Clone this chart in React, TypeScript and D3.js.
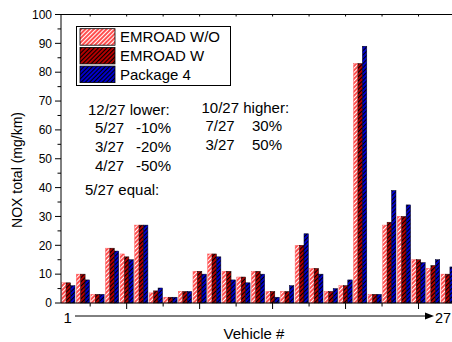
import React from "react";
import * as d3 from "d3";

// NOx per vehicle, three measurement setups
const vehicles: number[] = d3.range(1, 28);
const emroadWO: number[] = [7, 10, 3, 19, 17, 27, 3.5, 2, 4, 11, 17, 11, 9, 11, 4, 4, 20, 12, 4, 6, 83, 3, 27, 30, 15, 12, 10];
const emroadW: number[] = [7, 10, 3, 19, 16, 27, 4.2, 2, 4, 11, 17, 11, 9, 11, 4, 4, 20, 12, 4, 6, 83, 3, 28, 30, 15, 13, 10];
const package4: number[] = [6, 8, 3, 18, 15, 27, 5.2, 2, 4, 10, 16, 8, 7, 10, 2, 6, 24, 10, 5, 8, 89, 3, 39, 34, 14, 15, 12.5];

const seriesNames: string[] = ["EMROAD W/O", "EMROAD W", "Package 4"];
const yTicks: number[] = d3.range(0, 101, 10);
const yMinorTicks: number[] = d3.range(5, 100, 10);
const xMajorTicks: number[] = [5, 10, 15, 20, 25];
const xMinorTicks: number[] = [2.5, 7.5, 12.5, 17.5, 22.5];

const lowerNotes: [string, string][] = [
  ["5/27", "-10%"],
  ["3/27", "-20%"],
  ["4/27", "-50%"],
];
const higherNotes: [string, string][] = [
  ["7/27", "30%"],
  ["3/27", "50%"],
];

const FONT = "'Liberation Sans', Arial, Helvetica, sans-serif";

const styles = [
  { id: "hatchLight", base: "#ff3030", stripe: "#ffffff", stroke: "#ff6060" },
  { id: "hatchDark", base: "#d00000", stripe: "#000000", stroke: "#200000" },
  { id: "hatchBlue", base: "#0000f0", stripe: "#000000", stroke: "#000020" },
];

export default function App() {
  const W = 452;
  const H = 342;
  const left = 61;
  const top = 14.5;
  const bottom = 303;
  const right = 455;

  const x = d3.scaleLinear().domain([0.5, 27.5]).range([left, right]);
  const y = d3.scaleLinear().domain([0, 100]).range([bottom, top]);

  const groupW = x(2) - x(1);
  const inner = d3
    .scaleBand<number>()
    .domain([0, 1, 2])
    .range([-groupW * 0.455, groupW * 0.455])
    .padding(0);

  const series = [emroadWO, emroadW, package4];

  return (
    <svg
      width={W}
      height={H}
      style={{ position: "absolute", left: 0, top: 0, display: "block", background: "#fff" }}
      fontFamily={FONT}
    >
      <defs>
        {styles.map((s) => (
          <pattern
            key={s.id}
            id={s.id}
            patternUnits="userSpaceOnUse"
            width={3}
            height={3}
            patternTransform="rotate(45)"
          >
            <rect width={3} height={3} fill={s.base} />
            <line x1={1.5} y1={0} x2={1.5} y2={3} stroke={s.stripe} strokeWidth={1.3} />
          </pattern>
        ))}
      </defs>

      {/* bars */}
      {vehicles.map((v, i) => (
        <g key={v}>
          {series.map((vals, k) => {
            const x0 = x(v) + (inner(k) as number);
            const y0 = y(vals[i]);
            return (
              <rect
                key={k}
                x={x0}
                y={y0}
                width={inner.bandwidth()}
                height={bottom - y0}
                fill={`url(#${styles[k].id})`}
                stroke={styles[k].stroke}
                strokeWidth={0.5}
              />
            );
          })}
        </g>
      ))}

      {/* frame */}
      <line x1={left} x2={left} y1={top} y2={bottom} stroke="#000" strokeWidth={1} />
      <line x1={left} x2={W} y1={top} y2={top} stroke="#000" strokeWidth={1} />
      <line x1={left} x2={W} y1={bottom} y2={bottom} stroke="#000" strokeWidth={1} />

      {/* y ticks */}
      {yTicks.map((t) => (
        <g key={t}>
          <line x1={left - 6} x2={left} y1={y(t)} y2={y(t)} stroke="#000" />
          <text x={left - 9} y={y(t)} dy="0.35em" textAnchor="end" fontSize={12}>
            {t}
          </text>
        </g>
      ))}
      {yMinorTicks.map((t) => (
        <line key={t} x1={left - 3.5} x2={left} y1={y(t)} y2={y(t)} stroke="#000" />
      ))}

      {/* x ticks */}
      {xMajorTicks.map((t) => (
        <g key={t}>
          <line x1={x(t)} x2={x(t)} y1={bottom} y2={bottom + 6} stroke="#000" />
          <line x1={x(t)} x2={x(t)} y1={top} y2={top + 2} stroke="#000" />
        </g>
      ))}
      {xMinorTicks.map((t) => (
        <g key={t}>
          <line x1={x(t)} x2={x(t)} y1={bottom} y2={bottom + 3.5} stroke="#000" />
          <line x1={x(t)} x2={x(t)} y1={top} y2={top + 2} stroke="#000" />
        </g>
      ))}

      {/* y title */}
      <text
        transform={`translate(17,170) rotate(-90)`}
        textAnchor="middle"
        dy="0.35em"
        fontSize={14}
      >
        NOX total (mg/km)
      </text>

      {/* x axis: vehicle range arrow */}
      <text x={x(1) - 0.5} y={323} textAnchor="middle" fontSize={15}>
        {vehicles[0]}
      </text>
      <line x1={75} x2={426} y1={316} y2={316} stroke="#000" strokeWidth={1} />
      <path d="M425,312.5 L434,316 L425,319.5 Z" fill="#000" />
      <text x={435} y={323} fontSize={14.5}>
        {vehicles[vehicles.length - 1]}
      </text>
      <text x={254} y={339} textAnchor="middle" fontSize={15}>
        Vehicle #
      </text>

      {/* legend */}
      <rect x={76.5} y={26.5} width={154} height={59} fill="#fff" stroke="#000" strokeWidth={1} />
      {seriesNames.map((n, k) => {
        const ry = 28.7 + k * 18.7;
        return (
          <g key={n}>
            <rect
              x={80}
              y={ry}
              width={35}
              height={16.5}
              fill={`url(#${styles[k].id})`}
              stroke="#000"
              strokeWidth={0.8}
            />
            <text x={120} y={ry + 8.3} dy="0.36em" fontSize={15}>
              {n}
            </text>
          </g>
        );
      })}

      {/* annotations */}
      <text x={88} y={115} fontSize={15}>
        12/27 lower:
      </text>
      {lowerNotes.map(([a, b], i) => (
        <g key={i}>
          <text x={95} y={133 + i * 19} fontSize={15}>
            {a}
          </text>
          <text x={136} y={133 + i * 19} fontSize={15}>
            {b}
          </text>
        </g>
      ))}
      <text x={85} y={195} fontSize={15}>
        5/27 equal:
      </text>
      <text x={201.5} y={112.5} fontSize={15}>
        10/27 higher:
      </text>
      {higherNotes.map(([a, b], i) => (
        <g key={i}>
          <text x={205.5} y={131 + i * 19} fontSize={15}>
            {a}
          </text>
          <text x={252} y={131 + i * 19} fontSize={15}>
            {b}
          </text>
        </g>
      ))}
    </svg>
  );
}
